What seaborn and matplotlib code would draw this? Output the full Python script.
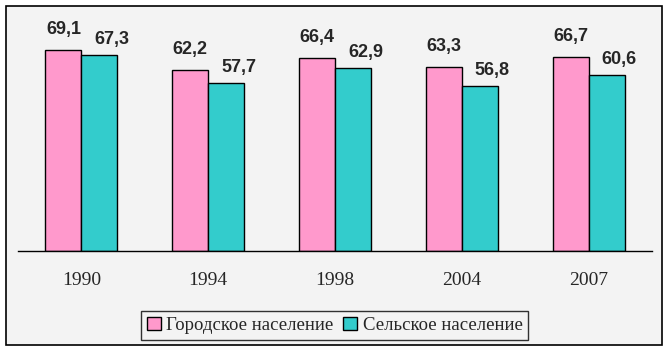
import matplotlib
matplotlib.use("Agg")
import matplotlib.pyplot as plt
from matplotlib.patches import Rectangle
import seaborn as sns
import pandas as pd

years = ["1990", "1994", "1998", "2004", "2007"]
urban = [69.1, 62.2, 66.4, 63.3, 66.7]
rural = [67.3, 57.7, 62.9, 56.8, 60.6]
series_names = ["Городское население", "Сельское население"]
colors = ["#FF99CC", "#33CCCC"]

df = pd.DataFrame({
    "year": years * 2,
    "value": urban + rural,
    "series": [series_names[0]] * len(years) + [series_names[1]] * len(years),
})

sns.set_style("white")
plt.rcParams["font.family"] = ["Liberation Serif", "DejaVu Serif"]

fig = plt.figure(figsize=(6.69, 3.51), dpi=100)
fig.patch.set_facecolor("white")
fig.patches.append(Rectangle((6 / 669, 6 / 351), 656 / 669, 339 / 351,
                             transform=fig.transFigure, facecolor="#F3F3F3",
                             edgecolor="black", linewidth=1.2, zorder=-5))

ax = fig.add_axes([18 / 669, 100 / 351, 634 / 669, 233 / 351])
ax.set_zorder(2)
ax.set_facecolor("none")
sns.barplot(data=df, x="year", y="value", hue="series", palette=colors,
            width=0.567, gap=0, edgecolor="black", linewidth=1.0,
            saturation=1, ax=ax, legend=True)

ax.set_ylim(0, 80)
ax.set_xlim(-0.5, len(years) - 0.5)
for s in ["left", "right", "top"]:
    ax.spines[s].set_visible(False)
ax.spines["bottom"].set_color("black")
ax.spines["bottom"].set_linewidth(1.0)
ax.set_yticks([])
ax.set_xlabel("")
ax.set_ylabel("")
ax.tick_params(axis="x", which="major", length=0, pad=15, labelsize=14)
ax.set_xticks([i - 0.5 for i in range(len(years) + 1)], minor=True)
ax.tick_params(axis="x", which="minor", length=5, width=1.0, color="black", direction="out")

offsets = [(0, 8.5), (9, 5)]
for cont, (dx, dy) in zip(ax.containers, offsets):
    for bar in cont:
        h = bar.get_height()
        ax.annotate(f"{h:.1f}".replace(".", ","),
                    (bar.get_x() + bar.get_width() / 2, h),
                    xytext=(dx, dy), textcoords="offset points",
                    ha="center", va="bottom", fontsize=13, fontweight="bold",
                    family=["Liberation Sans", "DejaVu Sans"])

handles, labels = ax.get_legend_handles_labels()
ax.get_legend().remove()
leg = fig.legend(handles, labels, loc="center", bbox_to_anchor=(0.5, 0.073),
                 ncol=2, frameon=True, fancybox=False, fontsize=13.5,
                 handlelength=0.75, handleheight=0.75, handletextpad=0.3,
                 columnspacing=0.5, borderpad=0.3, borderaxespad=0)
leg.get_frame().set_edgecolor("black")
leg.get_frame().set_linewidth(1.0)
leg.get_frame().set_facecolor("#F3F3F3")
for p in leg.get_patches():
    p.set_edgecolor("black")

fig.savefig("out.png", dpi=100)
